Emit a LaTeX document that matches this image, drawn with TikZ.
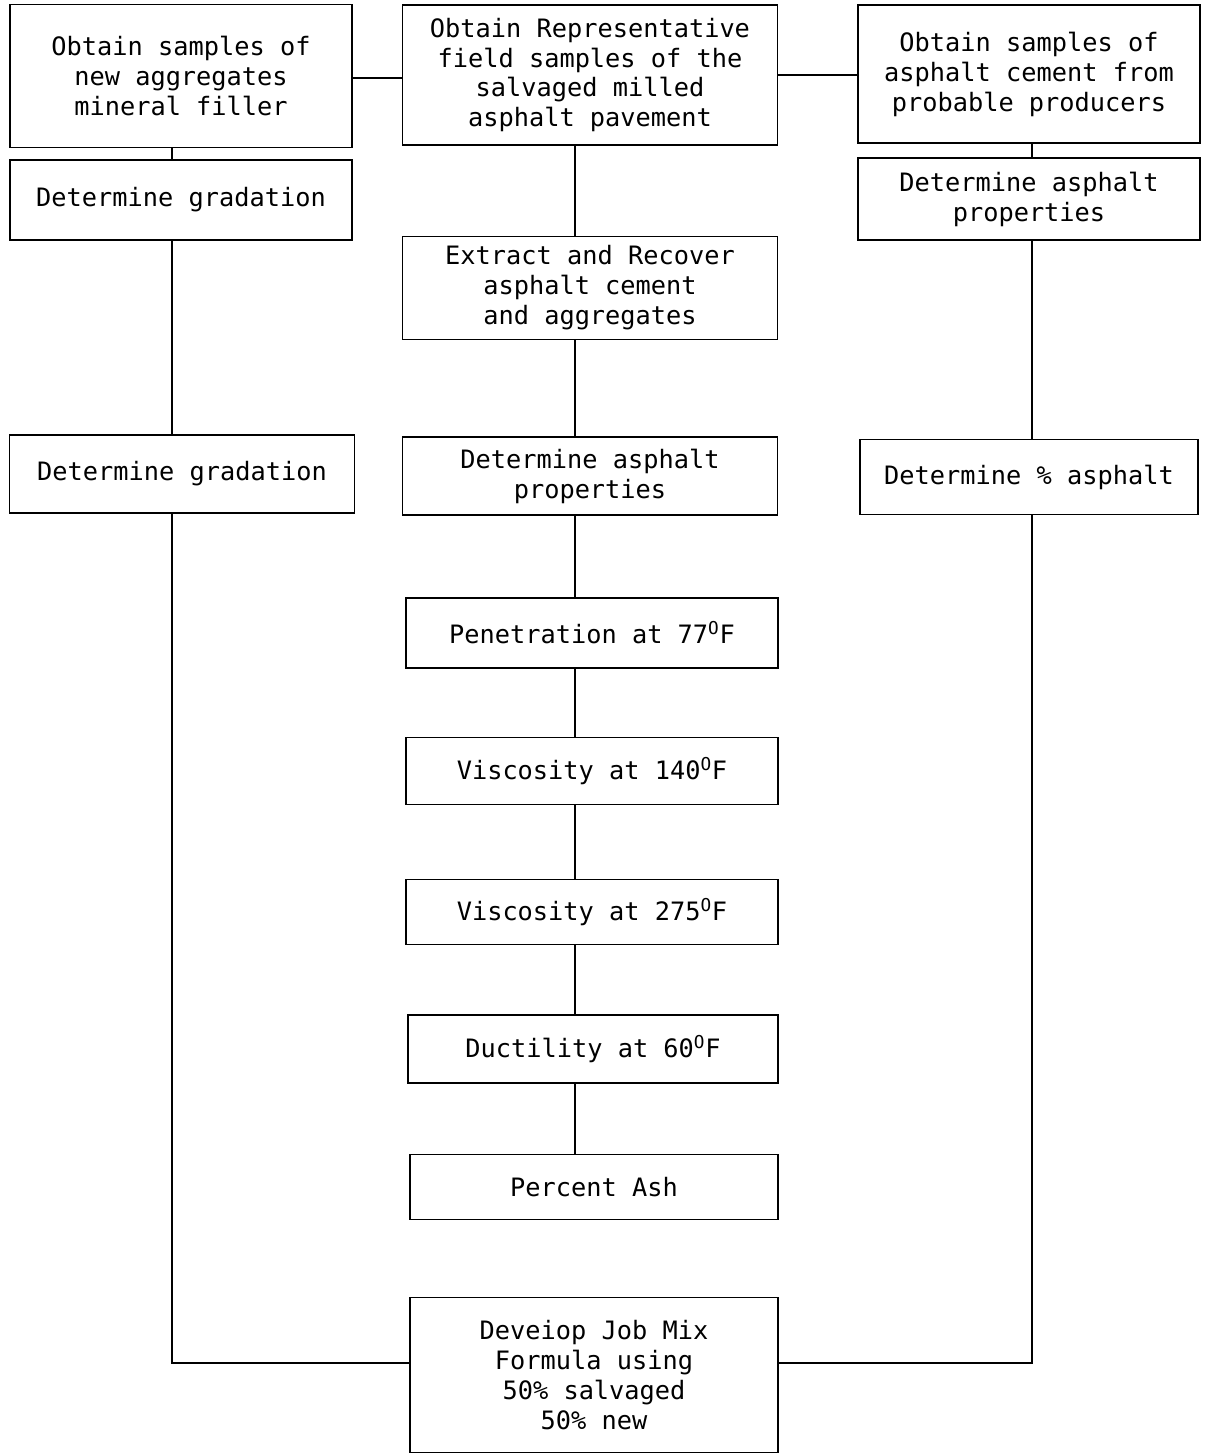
\documentclass[tikz,border=0pt]{standalone}
\usepackage{fontspec}
\setmainfont{DejaVu Sans Mono}
\begin{document}
\begin{tikzpicture}[x=0.025cm, y=-0.025cm,
    stepbox/.style={draw, line width=1.2pt, align=center, inner sep=0pt,
        font=\fontsize{18}{21.3}\selectfont},
    link/.style={line width=1.1pt}]
    \useasboundingbox (0,0) rectangle (1208,1455);

    % Left column: new aggregates
    \node[stepbox, minimum width=8.55cm, minimum height=3.575cm] (L1) at (181,76) {Obtain samples of\\new aggregates\\mineral filler};
    \node[stepbox, minimum width=8.55cm, minimum height=2cm] (L2) at (181,200) {Determine gradation};
    \node[stepbox, minimum width=8.625cm, minimum height=1.95cm] (L3) at (182,474) {Determine gradation};

    % Middle column: salvaged pavement
    \node[stepbox, minimum width=9.375cm, minimum height=3.5cm] (M1) at (590,75) {Obtain Representative\\field samples of the\\salvaged milled\\asphalt pavement};
    \node[stepbox, minimum width=9.375cm, minimum height=2.575cm] (M2) at (590,288) {Extract and Recover\\asphalt cement\\and aggregates};
    \node[stepbox, minimum width=9.375cm, minimum height=1.95cm] (M3) at (590,476) {Determine asphalt\\properties};
    \node[stepbox, minimum width=9.3cm, minimum height=1.75cm] (M4) at (592,633) {Penetration at 77\textsuperscript{O}F};
    \node[stepbox, minimum width=9.3cm, minimum height=1.675cm] (M5) at (592,771) {Viscosity at 140\textsuperscript{O}F};
    \node[stepbox, minimum width=9.3cm, minimum height=1.625cm] (M6) at (592,912) {Viscosity at 275\textsuperscript{O}F};
    \node[stepbox, minimum width=9.25cm, minimum height=1.7cm] (M7) at (593,1049) {Ductility at 60\textsuperscript{O}F};
    \node[stepbox, minimum width=9.2cm, minimum height=1.625cm] (M8) at (594,1187) {Percent Ash};
    \node[stepbox, minimum width=9.2cm, minimum height=3.875cm] (M9) at (594,1375) {Deveiop Job Mix\\Formula using\\50\% salvaged\\50\% new};

    % Right column: asphalt cement
    \node[stepbox, minimum width=8.55cm, minimum height=3.45cm] (R1) at (1029,74) {Obtain samples of\\asphalt cement from\\probable producers};
    \node[stepbox, minimum width=8.55cm, minimum height=2.05cm] (R2) at (1029,199) {Determine asphalt\\properties};
    \node[stepbox, minimum width=8.45cm, minimum height=1.875cm] (R3) at (1029,477) {Determine \% asphalt};

    % Column lines
    \coordinate (lcol) at (172,0);
    \coordinate (mcol) at (575,0);
    \coordinate (rcol) at (1032,0);
    \coordinate (base) at (0,1363);

    % Top row links
    \draw[link] (L1.east |- 0,78) -- (M1.west |- 0,78);
    \draw[link] (M1.east |- 0,75) -- (R1.west |- 0,75);

    % Left column links
    \draw[link] (L1.south -| lcol) -- (L2.north -| lcol);
    \draw[link] (L2.south -| lcol) -- (L3.north -| lcol);
    \draw[link] (L3.south -| lcol) |- (M9.west |- base);

    % Middle column links
    \foreach \a/\b in {M1/M2, M2/M3, M3/M4, M4/M5, M5/M6, M6/M7, M7/M8}
        \draw[link] (\a.south -| mcol) -- (\b.north -| mcol);

    % Right column links
    \draw[link] (R1.south -| rcol) -- (R2.north -| rcol);
    \draw[link] (R2.south -| rcol) -- (R3.north -| rcol);
    \draw[link] (R3.south -| rcol) |- (M9.east |- base);
\end{tikzpicture}
\end{document}
